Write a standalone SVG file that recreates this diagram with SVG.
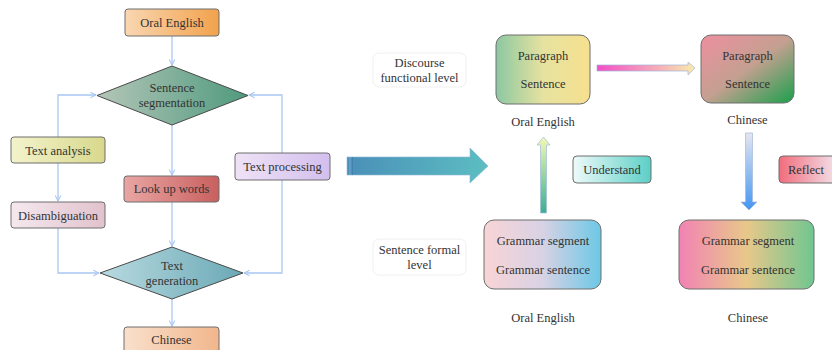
<svg xmlns="http://www.w3.org/2000/svg" width="832" height="350" viewBox="0 0 832 350">
<style>
text{font-size:12.5px;fill:#333;text-anchor:middle}
.box{stroke:#6e6e6e;stroke-width:1}
.dia{stroke:#4a4a4a;stroke-width:1}
.con{fill:none;stroke:#a9c6f2;stroke-width:1.3}
.lbl{fill:#fff;stroke:#f0f0f0;stroke-width:1}
</style>
<defs>
<marker id="ah" viewBox="0 0 10 10" refX="9" refY="5" markerWidth="7" markerHeight="7" orient="auto" markerUnits="userSpaceOnUse">
<path d="M1,1 L9,5 L1,9" fill="none" stroke="#a9c6f2" stroke-width="1.5"/>
</marker>
<linearGradient id="gOral" x1="0" x2="1"><stop offset="0" stop-color="#f9d6b2"/><stop offset="1" stop-color="#f2a24c"/></linearGradient>
<linearGradient id="gSeg" x1="0" x2="1"><stop offset="0" stop-color="#b4c6b8"/><stop offset="1" stop-color="#4f9a7e"/></linearGradient>
<linearGradient id="gTA" x1="0" x2="1"><stop offset="0" stop-color="#f3f3cc"/><stop offset="1" stop-color="#d8d88c"/></linearGradient>
<linearGradient id="gTP" x1="0" x2="1"><stop offset="0" stop-color="#efe2f6"/><stop offset="1" stop-color="#d3bfee"/></linearGradient>
<linearGradient id="gLU" x1="0" x2="1"><stop offset="0" stop-color="#e9a6a4"/><stop offset="1" stop-color="#c8605e"/></linearGradient>
<linearGradient id="gDis" x1="0" x2="1"><stop offset="0" stop-color="#f5e8ee"/><stop offset="1" stop-color="#e1c2cd"/></linearGradient>
<linearGradient id="gGen" x1="0" x2="1"><stop offset="0" stop-color="#b9dae0"/><stop offset="1" stop-color="#6aa9b6"/></linearGradient>
<linearGradient id="gChi" x1="0" x2="1"><stop offset="0" stop-color="#f9e0cc"/><stop offset="1" stop-color="#f1b68c"/></linearGradient>
<linearGradient id="gBig" x1="0" x2="1"><stop offset="0" stop-color="#4a8fb8"/><stop offset="1" stop-color="#5cbec2"/></linearGradient>
<linearGradient id="gP1" x1="0" x2="1"><stop offset="0" stop-color="#8cc8a2"/><stop offset="0.5" stop-color="#e6e2a0"/><stop offset="1" stop-color="#f6e08e"/></linearGradient>
<linearGradient id="gP2" x1="0" y1="0" x2="1" y2="1"><stop offset="0" stop-color="#ee8fa0"/><stop offset="0.5" stop-color="#c4a090"/><stop offset="1" stop-color="#1aa04c"/></linearGradient>
<linearGradient id="gG1" x1="0" x2="1"><stop offset="0" stop-color="#f9d4d6"/><stop offset="0.5" stop-color="#d8d2e4"/><stop offset="1" stop-color="#6cc8e6"/></linearGradient>
<linearGradient id="gG2" x1="0" x2="1"><stop offset="0" stop-color="#f282b4"/><stop offset="0.5" stop-color="#e8c88a"/><stop offset="1" stop-color="#70c690"/></linearGradient>
<linearGradient id="gUp" x1="0" y1="0" x2="0" y2="1"><stop offset="0" stop-color="#f4f8b4"/><stop offset="1" stop-color="#3cae92"/></linearGradient>
<linearGradient id="gDn" x1="0" y1="0" x2="0" y2="1"><stop offset="0" stop-color="#e4e6f0"/><stop offset="1" stop-color="#4496f2"/></linearGradient>
<linearGradient id="gPk" x1="0" x2="1"><stop offset="0" stop-color="#f24ec8"/><stop offset="1" stop-color="#f8eaae"/></linearGradient>
<linearGradient id="gUn" x1="0" x2="1"><stop offset="0" stop-color="#eefafa"/><stop offset="1" stop-color="#5ccfc6"/></linearGradient>
<linearGradient id="gRe" x1="0" x2="1"><stop offset="0" stop-color="#f26c7c"/><stop offset="1" stop-color="#f2e6ee"/></linearGradient>
</defs>

<g font-family="'Liberation Serif', 'DejaVu Serif', serif">
<g id="connectors">
<path class="con" d="M172,36 V65" marker-end="url(#ah)"/>
<path class="con" d="M58,137 V95 H96" marker-end="url(#ah)"/>
<path class="con" d="M282,153 V95 H249" marker-end="url(#ah)"/>
<path class="con" d="M172,125 V175" marker-end="url(#ah)"/>
<path class="con" d="M58,163 V201" marker-end="url(#ah)"/>
<path class="con" d="M58,228 V273 H99" marker-end="url(#ah)"/>
<path class="con" d="M172,202 V246" marker-end="url(#ah)"/>
<path class="con" d="M282,180 V273 H244" marker-end="url(#ah)"/>
<path class="con" d="M172,299 V326" marker-end="url(#ah)"/>
</g>

<g id="oral-english">
<rect class="box" x="125" y="9" width="94" height="27" rx="3" fill="url(#gOral)"/>
<text x="172" y="27">Oral English</text>
</g>
<g id="sentence-segmentation">
<polygon class="dia" points="172,66 248,95.5 172,125 97,95.5" fill="url(#gSeg)"/>
<text x="172" y="92">Sentence</text>
<text x="172" y="107">segmentation</text>
</g>
<g id="text-analysis">
<rect class="box" x="11" y="137" width="94" height="26" rx="3" fill="url(#gTA)"/>
<text x="58" y="154.5">Text analysis</text>
</g>
<g id="text-processing">
<rect class="box" x="235" y="153" width="95" height="27" rx="3" fill="url(#gTP)"/>
<text x="282.5" y="170.5">Text processing</text>
</g>
<g id="look-up-words">
<rect class="box" x="124" y="176" width="95" height="26" rx="3" fill="url(#gLU)"/>
<text x="171.5" y="193">Look up words</text>
</g>
<g id="disambiguation">
<rect class="box" x="11" y="202" width="94" height="26" rx="3" fill="url(#gDis)"/>
<text x="58" y="219.5">Disambiguation</text>
</g>
<g id="text-generation">
<polygon class="dia" points="172,247 243,273 172,299 100,273" fill="url(#gGen)"/>
<text x="172" y="270">Text</text>
<text x="172" y="285">generation</text>
</g>
<g id="chinese-out">
<rect class="box" x="124" y="327" width="95" height="30" rx="3" fill="url(#gChi)"/>
<text x="171.5" y="344">Chinese</text>
</g>

<g id="big-arrow">
<path d="M347,157 H470 V148 L488,166 L470,183 V175 H347 Z" fill="url(#gBig)" stroke="#8fb8d8" stroke-width="0.6"/>
<line x1="350" y1="157" x2="350" y2="175" stroke="#7aa8d0" stroke-width="1"/>
<line x1="352.5" y1="157" x2="352.5" y2="175" stroke="#3f7eac" stroke-width="0.8"/>
</g>

<g id="discourse-label">
<rect class="lbl" x="373" y="53" width="93" height="34" rx="6"/>
<text x="419.5" y="67">Discourse</text>
<text x="419.5" y="82">functional level</text>
</g>
<g id="sentence-formal-label">
<rect class="lbl" x="373" y="239" width="93" height="36" rx="6"/>
<text x="419.5" y="254">Sentence formal</text>
<text x="419.5" y="269">level</text>
</g>

<g id="oral-paragraph">
<rect class="box" x="496" y="35" width="94" height="69" rx="10" fill="url(#gP1)"/>
<text x="543" y="60">Paragraph</text>
<text x="543" y="88">Sentence</text>
<text x="543" y="126">Oral English</text>
</g>
<g id="chinese-paragraph">
<rect class="box" x="701" y="35" width="93" height="68" rx="10" fill="url(#gP2)"/>
<text x="747.5" y="60">Paragraph</text>
<text x="747.5" y="88">Sentence</text>
<text x="747.5" y="124">Chinese</text>
</g>
<g id="oral-grammar">
<rect class="box" x="484" y="220" width="117" height="69" rx="10" fill="url(#gG1)"/>
<text x="543" y="245">Grammar segment</text>
<text x="543" y="274">Grammar sentence</text>
<text x="543" y="322">Oral English</text>
</g>
<g id="chinese-grammar">
<rect class="box" x="679" y="220" width="135" height="69" rx="10" fill="url(#gG2)"/>
<text x="748" y="245">Grammar segment</text>
<text x="748" y="274">Grammar sentence</text>
<text x="748" y="322">Chinese</text>
</g>

<g id="understand">
<rect class="box" x="573" y="156" width="78" height="27" rx="4" fill="url(#gUn)"/>
<text x="612" y="174">Understand</text>
</g>
<g id="reflect">
<rect class="box" x="779" y="156" width="60" height="27" rx="4" fill="url(#gRe)"/>
<text x="806" y="174">Reflect</text>
</g>

<g id="flow-arrows">
<path d="M540.5,213 V145 H537 L543.5,137 L550,145 H546.5 V213 Z" fill="url(#gUp)" stroke="#a0bcd8" stroke-width="0.7"/>
<path d="M745.5,133 H752.5 V202 H757 L749,210 L741,202 H745.5 Z" fill="url(#gDn)" stroke="#a8b8d8" stroke-width="0.7"/>
<path d="M597,65 H688 V62 L695,68 L688,75 V71 H597 Z" fill="url(#gPk)" stroke="#a0b4d8" stroke-width="0.7"/>
</g>
</g>
</svg>
